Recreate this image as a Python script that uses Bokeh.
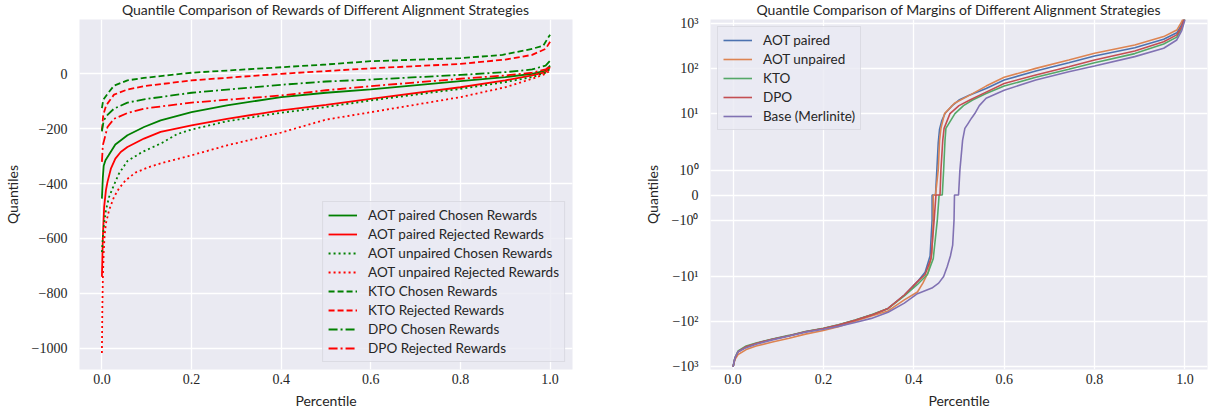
import math
from bokeh.plotting import figure
from bokeh.layouts import row
from bokeh.models import FixedTicker, NumeralTickFormatter
from bokeh.embed import file_html
from bokeh.resources import INLINE

# ---------------- Left panel: reward quantiles ----------------
aot_paired_chosen_p = [0, 0.002, 0.004, 0.008, 0.015, 0.03, 0.057, 0.094, 0.131, 0.2, 0.279, 0.4, 0.5, 0.6, 0.8, 0.9, 0.96, 0.99, 1.0]
aot_paired_chosen_v = [-455, -380, -335, -315, -297, -258, -224, -194, -170, -140, -115, -85, -69, -57, -27, -12, 0, 12, 30]

aot_paired_rejected_p = [0, 0.002, 0.005, 0.009, 0.0125, 0.02, 0.03, 0.042, 0.057, 0.094, 0.131, 0.2, 0.279, 0.4, 0.5, 0.6, 0.8, 0.9, 0.96, 0.99, 1.0]
aot_paired_rejected_v = [-740, -600, -485, -424, -394, -346, -309, -285, -267, -236, -212, -188, -164, -133, -113, -91, -49, -24, -6, 6, 24]

aot_unpaired_chosen_p = [0, 0.002, 0.005, 0.009, 0.016, 0.027, 0.038, 0.057, 0.09, 0.134, 0.168, 0.2, 0.279, 0.4, 0.5, 0.6, 0.8, 0.9, 0.96, 0.99, 1.0]
aot_unpaired_chosen_v = [-650, -600, -545, -497, -449, -405, -364, -318, -285, -252, -220, -203, -173, -142, -121, -97, -55, -30, -12, 4, 18]

aot_unpaired_rejected_p = [0, 0.001, 0.002, 0.004, 0.006, 0.009, 0.016, 0.027, 0.038, 0.053, 0.075, 0.105, 0.134, 0.2, 0.279, 0.4, 0.5, 0.6, 0.8, 0.9, 0.96, 0.99, 1.0]
aot_unpaired_rejected_v = [-1018, -850, -750, -650, -590, -545, -497, -449, -418, -388, -360, -340, -325, -297, -261, -214, -167, -140, -85, -49, -18, 0, 12]

kto_chosen_p = [0, 0.003, 0.0125, 0.027, 0.057, 0.094, 0.2, 0.4, 0.5, 0.6, 0.8, 0.894, 0.96, 0.985, 0.995, 1.0]
kto_chosen_v = [-125, -95, -73, -43, -24, -15, 4, 24, 34, 46, 57, 69, 91, 103, 130, 142]

kto_rejected_p = [0, 0.003, 0.0095, 0.027, 0.057, 0.094, 0.2, 0.4, 0.5, 0.6, 0.8, 0.9, 0.96, 0.99, 1.0]
kto_rejected_v = [-206, -150, -115, -76, -57, -45, -24, 0, 10, 20, 36, 52, 69, 91, 117]

dpo_chosen_p = [0, 0.004, 0.0125, 0.027, 0.057, 0.094, 0.2, 0.4, 0.5, 0.6, 0.8, 0.9, 0.96, 0.99, 1.0]
dpo_chosen_v = [-210, -170, -150, -127, -105, -93, -69, -40, -28, -21, -4, 6, 16, 30, 48]

dpo_rejected_p = [0, 0.002, 0.0125, 0.027, 0.057, 0.094, 0.2, 0.4, 0.5, 0.6, 0.8, 0.9, 0.96, 0.99, 1.0]
dpo_rejected_v = [-321, -261, -194, -164, -143, -127, -105, -79, -60, -45, -18, -6, 4, 16, 28]

left_y_ticks = [-1000, -800, -600, -400, -200, 0]
left_y_labels = ["\u22121000", "\u2212800", "\u2212600", "\u2212400", "\u2212200", "0"]

# ---------------- Right panel: margin quantiles ----------------
neg_p = [0, 0.004, 0.011, 0.029, 0.051, 0.087, 0.124, 0.16, 0.2, 0.233, 0.27, 0.306, 0.343, 0.379, 0.408]
neg_v = [-1010, -661, -469, -363, -306, -248, -206, -168, -143, -120, -93, -72, -51, -25.7, -13]

aot_paired_p = neg_p + [0.425, 0.436, 0.4405, 0.4405, 0.448, 0.451, 0.454, 0.457, 0.462, 0.469, 0.485, 0.5, 0.524, 0.56, 0.6, 0.67, 0.743, 0.8, 0.889, 0.953, 0.982, 0.993, 1.0]
aot_paired_v = neg_v + [-8, -3.5, -1, 0, 0, 1, 2.2, 4.5, 7, 10, 15, 20, 26, 36, 55.6, 88, 135, 190, 291, 446, 623, 960, 1500]

aot_unpaired_p = neg_p + [0.42, 0.432, 0.44, 0.443, 0.443, 0.448, 0.454, 0.457, 0.46, 0.468, 0.49, 0.524, 0.56, 0.6, 0.67, 0.743, 0.8, 0.889, 0.953, 0.982, 0.993, 1.0]
aot_unpaired_v = [-1010, -700, -540, -420, -350, -285, -235, -190, -158, -130, -98, -75, -58, -33, -22] + [-14, -8, -3, -1, 0, 0, 1, 2.5, 4.7, 10, 17, 25.7, 40.8, 63.9, 101, 155, 219, 335, 513, 716, 1100, 1680]

kto_p = neg_p + [0.43, 0.443, 0.452, 0.456, 0.463, 0.466, 0.469, 0.471, 0.491, 0.51, 0.53, 0.56, 0.6, 0.67, 0.743, 0.8, 0.889, 0.953, 0.982, 0.993, 1.0]
kto_v = [-1010, -640, -450, -350, -298, -243, -203, -166, -141, -118, -92, -71, -51, -27, -15] + [-9, -4, -1, 0, 0, 1, 2.5, 4.7, 10, 15, 20, 28, 40.8, 64, 97, 135, 215, 351, 500, 780, 1300]

dpo_p = neg_p + [0.425, 0.438, 0.445, 0.449, 0.458, 0.46, 0.464, 0.467, 0.48, 0.5, 0.524, 0.56, 0.6, 0.67, 0.743, 0.8, 0.889, 0.953, 0.982, 0.993, 1.0]
dpo_v = neg_v + [-9, -4, -1, 0, 0, 1, 2.5, 4.7, 10, 15, 20, 30, 46.8, 72, 110, 155, 245, 394, 560, 850, 1400]

base_p = neg_p + [0.44, 0.455, 0.466, 0.474, 0.481, 0.486, 0.489, 0.49, 0.499, 0.502, 0.508, 0.513, 0.52, 0.528, 0.535, 0.545, 0.56, 0.6, 0.67, 0.743, 0.8, 0.889, 0.953, 0.982, 0.993, 1.0]
base_v = [-1010, -640, -470, -380, -320, -255, -210, -172, -148, -128, -105, -85, -62, -39, -24] + [-18, -14, -10, -6, -3.5, -2, -1, 0, 0, 1, 2.57, 4.68, 6, 8, 10, 15, 21.9, 33, 55.6, 85, 114, 184, 282, 432, 700, 1210]

right_y_tick_values = [-1000, -100, -10, -1, 0, 1, 10, 100, 1000]
right_y_labels = ["\u221210\u00b3", "\u221210\u00b2", "\u221210\u00b9", "\u221210\u2070", "0",
                  "10\u2070", "10\u00b9", "10\u00b2", "10\u00b3"]

x_ticks = [0.0, 0.2, 0.4, 0.6, 0.8, 1.0]

LINTHRESH = 2.0
LINSCALE_ADJ = 1.0 / (1.0 - 1.0 / 10.0)


def symlog(v):
    a = abs(v)
    if a <= LINTHRESH:
        return v * LINSCALE_ADJ
    s = 1 if v > 0 else -1
    return s * LINTHRESH * (LINSCALE_ADJ + math.log10(a / LINTHRESH))


TEXT = "#262626"
BG = "#EAEAF2"
SANS = "Lato"
SERIF = "Liberation Serif"


def style(p, title):
    p.title.text = title
    p.title.align = "center"
    p.title.vertical_align = "top"
    p.title.text_font = SANS
    p.title.text_font_size = "14px"
    p.title.text_font_style = "normal"
    p.title.text_color = TEXT
    p.title.standoff = 0
    p.background_fill_color = BG
    p.border_fill_color = "white"
    p.outline_line_color = None
    for ax in (p.xaxis[0], p.yaxis[0]):
        ax.axis_line_color = None
        ax.major_tick_line_color = None
        ax.minor_tick_line_color = None
        ax.major_tick_out = 0
        ax.major_tick_in = 0
        ax.minor_tick_out = 0
        ax.minor_tick_in = 0
        ax.major_label_text_font = SERIF
        ax.major_label_text_font_size = "14px"
        ax.major_label_text_color = TEXT
        ax.axis_label_text_font = SANS
        ax.axis_label_text_font_size = "14px"
        ax.axis_label_text_font_style = "normal"
        ax.axis_label_text_color = TEXT
    p.xaxis[0].major_label_standoff = 4
    p.xaxis[0].axis_label_standoff = 5
    p.yaxis[0].major_label_standoff = 12
    p.yaxis[0].axis_label_standoff = 8
    p.xaxis[0].axis_label = "Percentile"
    p.yaxis[0].axis_label = "Quantiles"
    p.xaxis[0].ticker = FixedTicker(ticks=x_ticks)
    p.xaxis[0].formatter = NumeralTickFormatter(format="0.0")
    for g in (p.xgrid[0], p.ygrid[0]):
        g.grid_line_color = "white"
        g.grid_line_width = 1.3


def style_legend(leg):
    leg.label_text_font = SANS
    leg.label_text_font_size = "13.5px"
    leg.label_text_color = TEXT
    leg.background_fill_color = BG
    leg.background_fill_alpha = 0.8
    leg.border_line_color = "#CCCCD4"
    leg.border_line_width = 1
    leg.glyph_width = 29
    leg.glyph_height = 16
    leg.label_height = 16
    leg.spacing = 3
    leg.padding = 5
    leg.label_standoff = 11
    leg.margin = 7


# ---------------- Left figure ----------------
p1 = figure(width=640, height=419, output_backend="svg", toolbar_location=None,
            x_range=(-0.05, 1.05), y_range=(-1078, 198),
            min_border_left=77, min_border_right=68, min_border_top=18, min_border_bottom=50)
style(p1, "Quantile Comparison of Rewards of Different Alignment Strategies")
p1.yaxis[0].ticker = FixedTicker(ticks=left_y_ticks)
p1.yaxis[0].major_label_overrides = dict(zip(left_y_ticks, left_y_labels))

G, R = "#008000", "#FF0000"
LW = 1.8
left_series = [
    (aot_paired_chosen_p, aot_paired_chosen_v, G, "solid", "AOT paired Chosen Rewards"),
    (aot_paired_rejected_p, aot_paired_rejected_v, R, "solid", "AOT paired Rejected Rewards"),
    (aot_unpaired_chosen_p, aot_unpaired_chosen_v, G, "2 3", "AOT unpaired Chosen Rewards"),
    (aot_unpaired_rejected_p, aot_unpaired_rejected_v, R, "2 3", "AOT unpaired Rejected Rewards"),
    (kto_chosen_p, kto_chosen_v, G, "6 3", "KTO Chosen Rewards"),
    (kto_rejected_p, kto_rejected_v, R, "6 3", "KTO Rejected Rewards"),
    (dpo_chosen_p, dpo_chosen_v, G, "9 3 2 3", "DPO Chosen Rewards"),
    (dpo_rejected_p, dpo_rejected_v, R, "9 3 2 3", "DPO Rejected Rewards"),
]
for xs, ys, c, dash, lab in left_series:
    p1.line(xs, ys, line_color=c, line_width=LW, line_dash=dash, legend_label=lab)

p1.legend.location = "bottom_right"
style_legend(p1.legend[0])

# ---------------- Right figure ----------------
ry_ticks = [symlog(v) for v in right_y_tick_values]
p2 = figure(width=569, height=419, output_backend="svg", toolbar_location=None,
            x_range=(-0.05, 1.05), y_range=(-7.75, 7.80),
            min_border_left=65, min_border_right=2, min_border_top=18, min_border_bottom=50)
style(p2, "Quantile Comparison of Margins of Different Alignment Strategies")
p2.yaxis[0].ticker = FixedTicker(ticks=ry_ticks)
p2.yaxis[0].major_label_overrides = dict(zip(ry_ticks, right_y_labels))

right_series = [
    (aot_paired_p, aot_paired_v, "#4C72B0", "AOT paired"),
    (aot_unpaired_p, aot_unpaired_v, "#DD8452", "AOT unpaired"),
    (kto_p, kto_v, "#55A868", "KTO"),
    (dpo_p, dpo_v, "#C44E52", "DPO"),
    (base_p, base_v, "#8172B3", "Base (Merlinite)"),
]
for xs, ys, c, lab in right_series:
    p2.line(xs, [symlog(v) for v in ys], line_color=c, line_width=1.6, legend_label=lab)

p2.legend.location = "top_left"
style_legend(p2.legend[0])

layout = row(p1, p2)
open("out.html", "w").write(file_html(layout, INLINE))
